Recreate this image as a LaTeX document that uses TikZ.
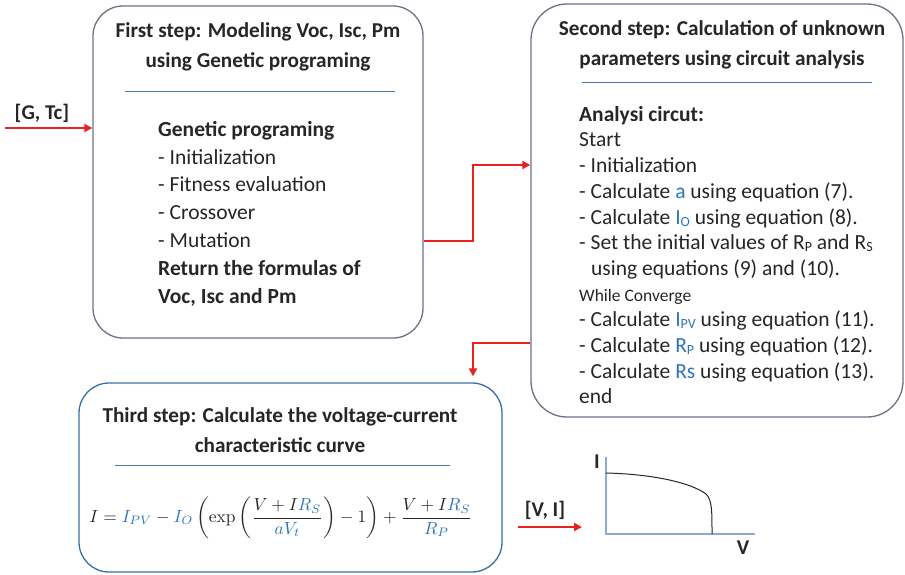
\documentclass[tikz,border=0pt]{standalone}
\usepackage{amsmath}
\usepackage{graphicx}
\usepackage[no-math]{fontspec}
\setmainfont{Carlito}
\usepackage{tikz}
\usetikzlibrary{arrows.meta,positioning,calc}
\definecolor{FrameGray}{HTML}{6A7384}
\definecolor{FrameBlue}{HTML}{3A6FA3}
\definecolor{RuleBlue}{HTML}{4A76B0}
\definecolor{FlowRed}{HTML}{E8231F}
\definecolor{TextDark}{HTML}{262626}
\definecolor{ParamBlue}{HTML}{2E74B5}
\definecolor{AxisBlue}{HTML}{8EA9D3}
\newcommand{\lowidx}[1]{\raisebox{-0.2ex}{\fontsize{14}{14}\selectfont #1}}
\newcommand{\pb}[1]{\textcolor{ParamBlue}{#1}}
\newcommand{\mb}[1]{{\color{ParamBlue}#1}}

\begin{document}
\begin{tikzpicture}[x=1pt, y=-1pt, >=Latex,
    stepbox/.style={draw=FrameGray, line width=1.3pt, rounded corners=30pt, inner sep=0pt},
    steptitle/.style={align=center, font=\fontsize{21.2}{30}\selectfont\bfseries, text=TextDark},
    steplist/.style={align=left, anchor=north west, inner sep=0pt, text=TextDark},
    sepline/.style={draw=RuleBlue, line width=0.9pt},
    flow/.style={draw=FlowRed, line width=2.4pt, -{Triangle[length=8pt,width=8pt]}},
    iolabel/.style={font=\fontsize{21}{24}\selectfont\bfseries, text=TextDark}]
    \useasboundingbox (0,0) rectangle (905,574);

    \node[stepbox, minimum width=330, minimum height=332] (first) at (258,172) {};
    \node[stepbox, minimum width=372, minimum height=413, rounded corners=36pt] (second) at (717,210.5) {};
    \node[stepbox, draw=FrameBlue, minimum width=423, minimum height=189] (third) at (290.5,477.5) {};

    \node[steptitle] (firsttitle) at (258,47) {First step: Modeling Voc, Isc, Pm\\using Genetic programing};
    \draw[sepline] (125,91) -- (395,91);
    \node[steplist, font=\fontsize{21.5}{27.8}\selectfont] (firstlist) at (158,121)
      {\textbf{Genetic programing}\\
       - Initialization\\
       - Fitness evaluation\\
       - Crossover\\
       - Mutation\\
       \textbf{Return the formulas of}\\
       \textbf{Voc, Isc and Pm}};

    \node[steptitle] (secondtitle) at (722,45) {Second step: Calculation of unknown\\parameters using circuit analysis};
    \draw[sepline] (582,82) -- (872,82);
    \node[steplist, font=\fontsize{21.5}{25.7}\selectfont] (secondlist) at (579,106)
      {\textbf{Analysi circut:}\\
       Start\\
       - Initialization\\
       - Calculate \pb{a} using equation (7).\\
       - Calculate \pb{I\lowidx{O}} using equation (8).\\
       - Set the initial values of R\lowidx{P} and R\lowidx{S}\\
       \hspace*{12pt}using equations (9) and (10).\\
       {\fontsize{17.5}{17.5}\selectfont While Converge}\\
       - Calculate \pb{I\lowidx{PV}} using equation (11).\\
       - Calculate \pb{R\lowidx{P}} using equation (12).\\
       - Calculate \pb{Rs} using equation (13).\\
       end};

    \node[steptitle] (thirdtitle) at (280,430) {Third step: Calculate the voltage-current\\characteristic curve};
    \draw[sepline] (115,465) -- (450,465);
    \node[text=TextDark] (equation) at (281,518)
      {\resizebox{383pt}{!}{$\displaystyle I=\mb{I_{PV}}-\mb{I_O}\left(\exp\left(\frac{V+I\mb{R_S}}{\mb{aV_t}}\right)-1\right)+\frac{V+I\mb{R_S}}{\mb{R_P}}$}};

    \node[iolabel] (gtc) at (42,113) {[G, Tc]};
    \coordinate (gin) at (5,128);
    \draw[flow] (gin) -- (first.west |- gin);

    \coordinate (c1) at (473,241);
    \coordinate (c2) at (473,165);
    \draw[flow] (first.east |- c1) -- (c1) -- (c2) -- (second.west |- c2);

    \coordinate (c3) at (473,343);
    \draw[flow, shorten >=6pt] (second.west |- c3) -- (c3) -- (c3 |- third.north);

    \node[iolabel] (vi) at (545,510) {[V, I]};
    \coordinate (vout) at (518,527);
    \coordinate (vin) at (582,527);
    \draw[flow] (vout) -- (vin);

    \coordinate (origin) at (606,534);
    \draw[AxisBlue, line width=1.2pt] (606,457) -- (origin) -- (755,534);
    \node[iolabel] (ilab) at (597,462) {I};
    \node[iolabel] (vlab) at (743,548) {V};
    \draw[TextDark, line width=1pt] (606,473) .. controls (650,474) and (690,482) .. (706,494)
      .. controls (712,500) and (712,510) .. (712,534);
\end{tikzpicture}
\end{document}
